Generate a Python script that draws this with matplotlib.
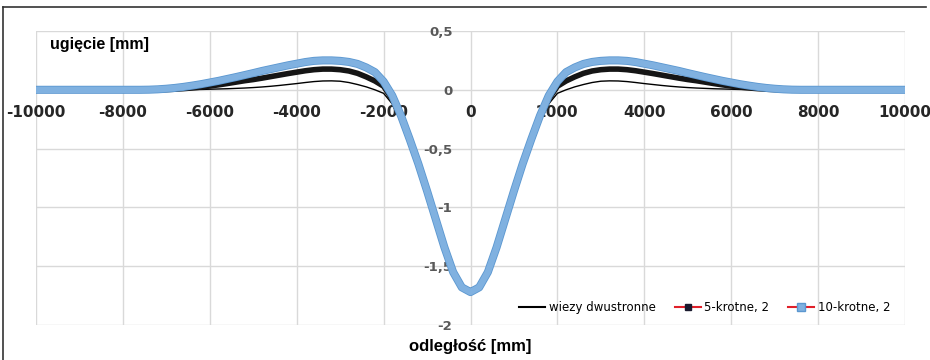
import matplotlib.pyplot as plt
import matplotlib.patheffects as pe
import numpy as np
from matplotlib.lines import Line2D

# odległość [mm], krok 200 mm
x = np.arange(-10000, 10001, 200)

# wiezy dwustronne (cienka czarna linia)
y_wiezy = [
    0, 0, 0, 0, 0, 0, 0, 0, 0, 0,
    0, 0, 0, 0, 0, 0, 0, 0.001, 0.002, 0.003,
    0.005, 0.007, 0.009, 0.012, 0.015, 0.019, 0.024, 0.030, 0.037, 0.045,
    0.053, 0.062, 0.070, 0.075, 0.076, 0.073, 0.062, 0.045, 0.025, 0.0,
    -0.03, -0.12, -0.27, -0.46, -0.67, -0.89, -1.12, -1.35, -1.55, -1.67,
    -1.70,
    -1.67, -1.55, -1.35, -1.12, -0.89, -0.67, -0.46, -0.27, -0.12, -0.03,
    0.0, 0.025, 0.045, 0.062, 0.073, 0.076, 0.075, 0.070, 0.062, 0.053,
    0.045, 0.037, 0.030, 0.024, 0.019, 0.015, 0.012, 0.009, 0.007, 0.005,
    0.003, 0.002, 0.001, 0, 0, 0, 0, 0, 0, 0,
    0, 0, 0, 0, 0, 0, 0, 0, 0, 0,
]

# 5-krotne, 2
y_5kr = [
    0, 0, 0, 0, 0, 0, 0, 0, 0, 0,
    0, 0, 0, 0, 0, 0.002, 0.005, 0.010, 0.016, 0.023,
    0.032, 0.042, 0.053, 0.065, 0.077, 0.087, 0.099, 0.112, 0.125, 0.138,
    0.150, 0.162, 0.171, 0.176, 0.176, 0.171, 0.160, 0.140, 0.110, 0.075,
    0.030, -0.08, -0.23, -0.43, -0.64, -0.87, -1.11, -1.34, -1.55, -1.68,
    -1.71,
    -1.68, -1.55, -1.34, -1.11, -0.87, -0.64, -0.43, -0.23, -0.08, 0.030,
    0.075, 0.110, 0.140, 0.160, 0.171, 0.176, 0.176, 0.171, 0.162, 0.150,
    0.138, 0.125, 0.112, 0.099, 0.087, 0.077, 0.065, 0.053, 0.042, 0.032,
    0.023, 0.016, 0.010, 0.005, 0.002, 0, 0, 0, 0, 0,
    0, 0, 0, 0, 0, 0, 0, 0, 0, 0,
]

# 10-krotne, 2
y_10kr = [
    0, 0, 0, 0, 0, 0, 0, 0, 0, 0,
    0, 0, 0, 0.001, 0.004, 0.009, 0.016, 0.025, 0.036, 0.048,
    0.062, 0.076, 0.092, 0.108, 0.125, 0.142, 0.160, 0.176, 0.192, 0.208,
    0.222, 0.236, 0.246, 0.250, 0.250, 0.246, 0.237, 0.220, 0.190, 0.150,
    0.070, -0.05, -0.22, -0.42, -0.63, -0.86, -1.10, -1.34, -1.55, -1.68,
    -1.72,
    -1.68, -1.55, -1.34, -1.10, -0.86, -0.63, -0.42, -0.22, -0.05, 0.070,
    0.150, 0.190, 0.220, 0.237, 0.246, 0.250, 0.250, 0.246, 0.236, 0.222,
    0.208, 0.192, 0.176, 0.160, 0.142, 0.125, 0.108, 0.092, 0.076, 0.062,
    0.048, 0.036, 0.025, 0.016, 0.009, 0.004, 0.001, 0, 0, 0,
    0, 0, 0, 0, 0, 0, 0, 0, 0, 0,
]

labels = ["wiezy dwustronne", "5-krotne, 2", "10-krotne, 2"]
xticks = np.arange(-10000, 10001, 2000)
yticks = np.arange(-2, 0.51, 0.5)

blue = "#80b1e0"
blue_edge = "#5b97d0"

fig = plt.figure(figsize=(9.3, 3.6), dpi=100)
ax = fig.add_axes([36 / 930, 35 / 360, 869 / 930, 294 / 360])

ax.plot(x, y_wiezy, color="black", lw=1.0, zorder=3)
ax.plot(x, y_5kr, color="#151515", lw=4.0, solid_joinstyle="round", zorder=4)
ax.plot(x, y_10kr, color=blue, lw=4.6, solid_capstyle="butt",
        solid_joinstyle="round", zorder=5,
        path_effects=[pe.Stroke(linewidth=5.8, foreground=blue_edge),
                      pe.Normal()])

ax.set_xlim(-10000, 10000)
ax.set_ylim(-2, 0.5)
ax.set_xticks(xticks)
ax.set_yticks(yticks)
ax.grid(True, color="#d9d9d9", lw=1.0)
ax.set_axisbelow(True)
for s in ax.spines.values():
    s.set_visible(False)
ax.spines["bottom"].set_position(("data", 0))
ax.spines["left"].set_position(("data", 0))
ax.tick_params(length=0)
ax.tick_params(axis="x", pad=11)
ax.tick_params(axis="y", pad=13)
ax.set_xticklabels([str(v) for v in xticks], fontsize=11, fontweight="bold",
                   family="DejaVu Sans", color="#262626")
ax.set_yticklabels([("%g" % v).replace(".", ",") for v in yticks],
                   fontsize=9.5, fontweight="bold", family="DejaVu Sans",
                   color="#595959")

fig.text(50 / 930, 1 - 45 / 360, "ugięcie [mm]", fontsize=11.5,
         fontweight="bold", family="Liberation Sans", va="center")
fig.text(470 / 930, 1 - 347 / 360, "odległość [mm]", fontsize=12,
         fontweight="bold", family="Liberation Sans", ha="center",
         va="center")

handles = [
    Line2D([], [], color="black", lw=1.5),
    Line2D([], [], color="#e0202a", lw=1.5, marker="s", ms=4,
           mfc="#1a1a2e", mec="#1a1a2e"),
    Line2D([], [], color="#e0202a", lw=1.5, marker="s", ms=6,
           mfc=blue, mec=blue_edge),
]
ax.legend(handles, labels, loc="lower right", ncol=3, frameon=False,
          prop={"family": "Liberation Sans Narrow", "size": 8.5},
          bbox_to_anchor=(0.995, 0.0), handlelength=2.2, handletextpad=0.3,
          columnspacing=1.6)

# ramka wokół rysunku
fig.add_artist(Line2D([3 / 930, 3 / 930], [0, 1 - 7 / 360],
                      transform=fig.transFigure, color="#333333", lw=1.2))
fig.add_artist(Line2D([3 / 930, 926 / 930], [1 - 7 / 360, 1 - 7 / 360],
                      transform=fig.transFigure, color="#333333", lw=1.2))

fig.savefig("out.png", dpi=100)
